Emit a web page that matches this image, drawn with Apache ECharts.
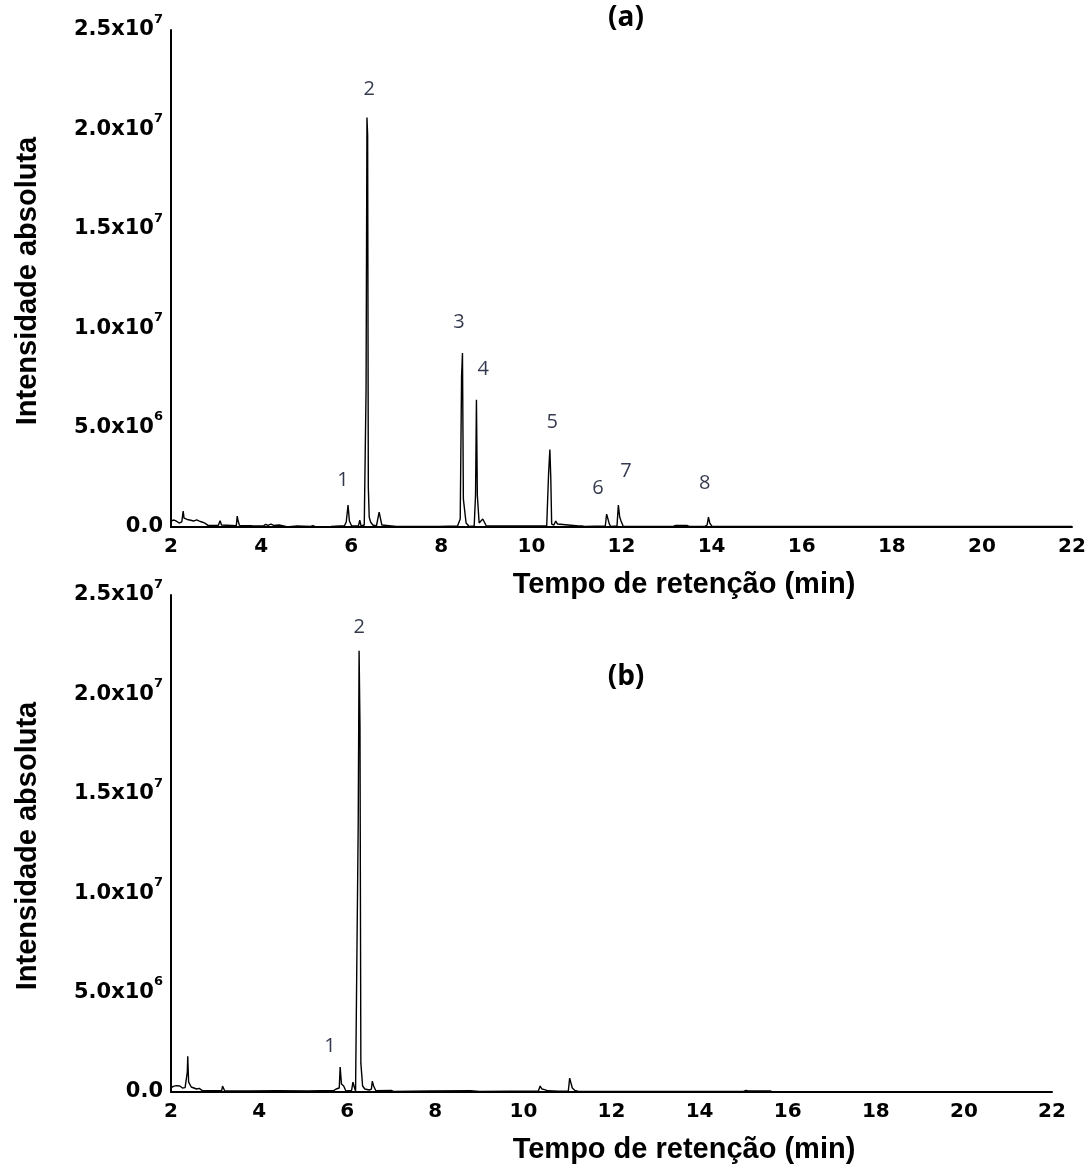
<!DOCTYPE html>
<html>
<head>
<meta charset="utf-8">
<script src="https://cdn.jsdelivr.net/npm/echarts@6/dist/echarts.min.js"></script>
<style>
html,body{margin:0;padding:0;background:#fff;}
#chart{width:1092px;height:1167px;}
</style>
</head>
<body>
<div id="chart"></div>
<script>
// ---- Data: [retention time (min), absolute intensity] ----
const traceA = [
  [2.00,3.0e5],[2.05,3.5e5],[2.10,3.2e5],[2.18,2.0e5],[2.24,2.6e5],[2.26,3.0e5],[2.27,8.0e5],[2.29,4.5e5],
  [2.36,3.8e5],[2.44,3.4e5],[2.50,3.0e5],[2.57,3.6e5],[2.63,3.0e5],[2.70,2.4e5],[2.76,1.8e5],[2.82,0.8e5],
  [3.05,0.8e5],[3.07,2.0e5],[3.09,3.2e5],[3.12,1.0e5],[3.45,0.6e5],[3.47,5.5e5],[3.49,3.0e5],[3.52,0.8e5],
  [3.80,0.6e5],[4.05,0.5e5],[4.10,1.3e5],[4.15,0.8e5],[4.22,1.4e5],[4.28,0.8e5],[4.40,1.0e5],[4.55,0.3e5],
  [4.62,0.2e5],[4.80,0.5e5],[5.10,0.3e5],[5.15,0.7e5],[5.20,0.2e5],[5.55,0.3e5],[5.85,0.6e5],[5.89,2.5e5],
  [5.93,1.1e6],[5.96,3.0e5],[6.01,0.5e5],[6.16,0.5e5],[6.19,3.5e5],[6.22,0.5e5],[6.29,1.0e5],[6.33,6.9e6],
  [6.35,2.06e7],[6.365,1.97e7],[6.38,2.0e6],[6.40,5.0e5],[6.43,2.5e5],[6.48,1.0e5],[6.56,0.5e5],[6.60,1.0e5],
  [6.62,7.5e5],[6.65,7.0e5],[6.68,1.0e5],[6.72,0.3e5],[7.00,0.3e5],[7.02,1.0e5],[7.05,0.3e5],[7.35,0.3e5],
  [7.37,1.0e5],[7.40,0.3e5],[7.90,0.3e5],[7.92,1.0e5],[7.95,0.3e5],[8.36,0.5e5],[8.42,4.0e5],[8.45,7.6e6],
  [8.47,8.75e6],[8.49,1.4e6],[8.52,1.3e6],[8.55,2.0e5],[8.62,0.3e5],[8.73,0.5e5],[8.76,1.6e6],[8.78,6.4e6],
  [8.80,1.6e6],[8.82,1.5e6],[8.84,2.0e5],[8.88,1.5e5],[8.92,4.0e5],[8.96,3.0e5],[9.00,0.5e5],[10.34,0.5e5],
  [10.38,2.6e6],[10.41,3.9e6],[10.43,2.5e6],[10.45,1.5e5],[10.50,1.0e5],[10.54,3.0e5],[10.58,1.5e5],[10.62,0.5e5],
  [11.05,0.5e5],[11.08,1.2e5],[11.12,0.5e5],[11.15,1.0e5],[11.18,0.3e5],[11.64,0.5e5],[11.67,6.5e5],[11.70,5.5e5],
  [11.73,1.5e5],[11.76,0.3e5],[11.90,0.5e5],[11.93,1.1e6],[11.96,5.0e5],[11.99,3.0e5],[12.04,0.3e5],[13.15,0.3e5],
  [13.20,0.8e5],[13.45,0.8e5],[13.50,0.3e5],[13.85,0.3e5],[13.90,1.0e5],[13.93,5.0e5],[13.96,2.0e5],[14.01,0.3e5],
  [15.38,0.3e5],[15.40,1.0e5],[15.42,0.3e5],[16.18,0.3e5],[16.20,1.0e5],[16.22,0.3e5],[22.00,0.3e5]
];
const traceB = [
  [2.00,2.0e5],[2.05,2.8e5],[2.12,3.2e5],[2.20,3.0e5],[2.26,2.0e5],[2.32,2.2e5],[2.35,2.5e5],[2.37,1.0e6],
  [2.38,1.8e6],[2.40,5.0e5],[2.46,2.5e5],[2.52,2.0e5],[2.58,1.5e5],[2.64,1.8e5],[2.72,0.6e5],[3.15,0.6e5],
  [3.17,3.0e5],[3.20,3.0e5],[3.22,0.5e5],[3.80,0.5e5],[4.40,0.6e5],[5.10,0.5e5],[5.70,0.8e5],[5.75,1.5e5],
  [5.79,0.8e5],[5.82,2.0e5],[5.84,1.25e6],[5.87,4.0e5],[5.92,3.0e5],[5.97,0.5e5],[6.10,0.8e5],[6.13,5.0e5],
  [6.16,2.5e5],[6.19,0.5e5],[6.23,1.0e5],[6.25,1.35e7],[6.27,2.22e7],[6.29,1.84e7],[6.31,1.45e6],[6.35,3.0e5],
  [6.40,1.5e5],[6.50,1.0e5],[6.55,1.5e5],[6.57,5.5e5],[6.60,3.0e5],[6.65,0.6e5],[7.00,0.8e5],[7.05,0.3e5],
  [7.90,0.5e5],[8.80,0.6e5],[9.00,0.3e5],[10.34,0.5e5],[10.38,3.0e5],[10.42,1.5e5],[10.48,1.2e5],[10.52,2.0e5],
  [10.56,0.6e5],[10.80,0.4e5],[11.02,0.5e5],[11.05,7.0e5],[11.08,6.0e5],[11.11,2.0e5],[11.17,0.8e5],[11.25,0.3e5],
  [15.00,0.3e5],[15.05,0.8e5],[15.10,0.5e5],[15.60,0.5e5],[15.65,0.2e5],[22.00,0.2e5]
];
// Peak annotations: [time, intensity, label]
const peakLabelsA = [
  [5.82,2.36e6,'1'],[6.40,2.20e7,'2'],[8.39,1.03e7,'3'],[8.93,7.95e6,'4'],
  [10.46,5.28e6,'5'],[11.48,1.96e6,'6'],[12.10,2.80e6,'7'],[13.85,2.20e6,'8']
];
const peakLabelsB = [
  [5.61,2.30e6,'1'],[6.27,2.34e7,'2']
];
const xMin = 2, xMax = 22, xStep = 2;
const yMin = 0, yMax = 2.5e7, yStep = 5e6;
const xTitle = 'Tempo de retenção (min)';
const yTitle = 'Intensidade absoluta';
const panelTitles = ['(a)', '(b)'];

// ---- Chart ----
const chart = echarts.init(document.getElementById('chart'), null, {renderer: 'canvas'});
const tickFont = 'DejaVu Sans';
function yFmt(v) {
  if (v === 0) return '{z|0.0}';
  const e = Math.floor(Math.log10(v) + 1e-9);
  const m = (v / Math.pow(10, e)).toFixed(1);
  return '{m|' + m + 'x10}{s|' + e + '}';
}
const axisLineStyle = {show: true, onZero: false, lineStyle: {color: '#000', width: 2}};
function xAxisCfg(gi) {
  return {
    type: 'value', gridIndex: gi, min: xMin, max: xMax, interval: xStep,
    axisLine: axisLineStyle, axisTick: {show: false}, splitLine: {show: false},
    axisLabel: {color: '#000', fontFamily: tickFont, fontWeight: 'bold', fontSize: 20, margin: 10}
  };
}
function yAxisCfg(gi) {
  return {
    type: 'value', gridIndex: gi, min: yMin, max: yMax, interval: yStep,
    axisLine: axisLineStyle, axisTick: {show: false}, splitLine: {show: false},
    axisLabel: {
      color: '#000', margin: 8, formatter: yFmt,
      rich: {
        z: {fontFamily: tickFont, fontWeight: 'bold', fontSize: 21, lineHeight: 22, color: '#000'},
        m: {fontFamily: tickFont, fontWeight: 'bold', fontSize: 21, lineHeight: 34, color: '#000'},
        s: {fontFamily: tickFont, fontWeight: 'bold', fontSize: 13, lineHeight: 14, color: '#000', verticalAlign: 'top'}
      }
    }
  };
}
function traceSeries(data, gi) {
  return {
    type: 'line', xAxisIndex: gi, yAxisIndex: gi, data: data, showSymbol: false, symbol: 'none',
    lineStyle: {color: '#000', width: 1.4}, silent: true, z: 3
  };
}
function labelSeries(data, gi) {
  return {
    type: 'scatter', xAxisIndex: gi, yAxisIndex: gi, symbolSize: 1, silent: true,
    itemStyle: {color: 'rgba(0,0,0,0)'},
    data: data.map(d => ({value: [d[0], d[1]], name: d[2]})),
    label: {show: true, position: 'inside', formatter: p => p.name,
      fontFamily: 'Open Sans', fontSize: 20, color: '#000820'}
  };
}
const titleStyle = {fontFamily: 'Liberation Sans', fontWeight: 'bold', fontSize: 29, fill: '#000'};
function gText(text, x, y, style, rot) {
  return {type: 'text', x: x, y: y, rotation: rot || 0,
    style: Object.assign({text: text, textAlign: 'center', textVerticalAlign: 'middle'}, style)};
}
chart.setOption({
  animation: false,
  backgroundColor: '#fff',
  grid: [
    {left: 171, top: 30, width: 901, height: 497},
    {left: 171, top: 595, width: 881, height: 497}
  ],
  xAxis: [xAxisCfg(0), xAxisCfg(1)],
  yAxis: [yAxisCfg(0), yAxisCfg(1)],
  series: [traceSeries(traceA, 0), traceSeries(traceB, 1), labelSeries(peakLabelsA, 0), labelSeries(peakLabelsB, 1)],
  graphic: [
    gText(xTitle, 684, 585, titleStyle),
    gText(xTitle, 684, 1150, titleStyle),
    gText(yTitle, 28, 281, titleStyle, Math.PI / 2),
    gText(yTitle, 28, 846, titleStyle, Math.PI / 2),
    gText(panelTitles[0], 626, 18, {fontFamily: 'Open Sans', fontWeight: 'bold', fontSize: 28, fill: '#000'}),
    gText(panelTitles[1], 626, 677, {fontFamily: 'Open Sans', fontWeight: 'bold', fontSize: 28, fill: '#000'})
  ]
});
</script>
</body>
</html>
